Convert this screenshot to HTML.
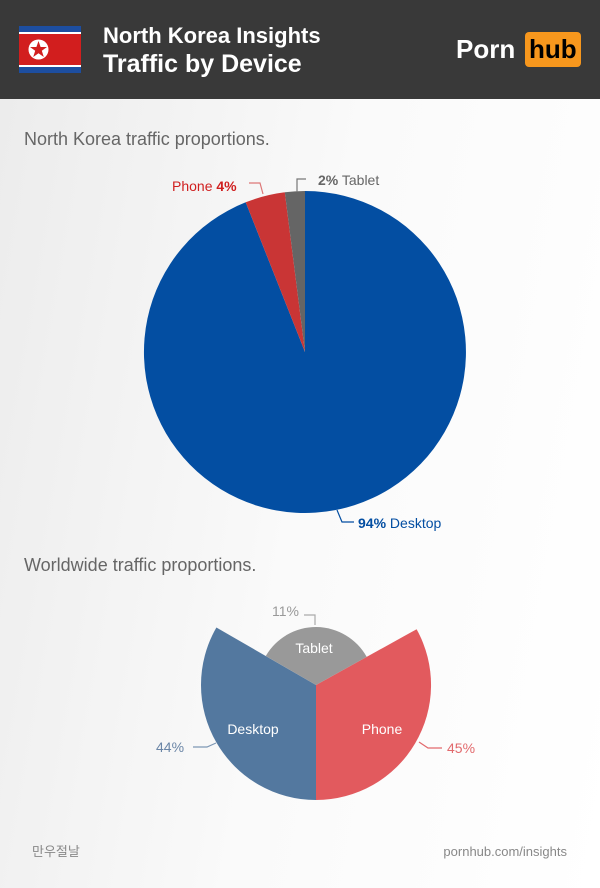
<!DOCTYPE html>
<html><head><meta charset="utf-8"><style>
body{margin:0;width:600px;height:888px;overflow:hidden;font-family:"Liberation Sans","Noto Sans CJK KR",sans-serif;}
.hdr{position:absolute;left:0;top:0;width:600px;height:99px;background:#393939;}
.main{position:absolute;left:0;top:99px;width:600px;height:789px;background:linear-gradient(100deg,#ececec 0%,#fafafa 50%,#ffffff 100%);}
</style></head><body>
<div class="hdr">
<svg width="600" height="99" style="position:absolute;left:0;top:0">
<rect x="19" y="26" width="62" height="47" fill="#1d4ea0"/>
<rect x="19" y="32" width="62" height="2" fill="#fff"/>
<rect x="19" y="34" width="62" height="31" fill="#d21e1e"/>
<rect x="19" y="65" width="62" height="2" fill="#fff"/>
<circle cx="38.5" cy="49.5" r="10" fill="#fff"/>
<polygon points="38.5,41 40.6,47 47,47 41.8,50.8 43.8,57 38.5,53.2 33.2,57 35.2,50.8 30,47 36.4,47" fill="#d21e1e"/>
<text x="103" y="43" font-size="22" font-weight="bold" fill="#fff">North Korea Insights</text>
<text x="103" y="72" font-size="25" font-weight="bold" fill="#fff">Traffic by Device</text>
<text x="456" y="58" font-size="26" font-weight="bold" fill="#fff">Porn</text>
<rect x="525" y="32" width="56" height="35" rx="4" fill="#f7971d"/>
<text x="529" y="58" font-size="26" font-weight="bold" fill="#000">hub</text>
</svg>
</div>
<div class="main"></div>
<svg width="600" height="888" style="position:absolute;left:0;top:0">
<text x="24" y="145" font-size="18" fill="#666">North Korea traffic proportions.</text>
<path d="M305,352 L305,191 A161,161 0 1 1 245.7,202.3 Z" fill="#034ea2"/>
<path d="M305,352 L245.7,202.3 A161,161 0 0 1 284.8,192.3 Z" fill="#c93535"/>
<path d="M305,352 L284.8,192.3 A161,161 0 0 1 305,191 Z" fill="#656565"/>
<polyline points="263,194 260,183 249,183" fill="none" stroke="#d77" stroke-width="1.2"/>
<polyline points="297,192 297,179 306,179" fill="none" stroke="#777" stroke-width="1.2"/>
<text x="172" y="191" font-size="14" fill="#d01f1f">Phone <tspan font-weight="bold">4%</tspan></text>
<text x="318" y="185" font-size="14" fill="#666"><tspan font-weight="bold">2%</tspan> Tablet</text>
<polyline points="337,510 342,522 354,522" fill="none" stroke="#034ea2" stroke-width="1.2"/>
<text x="358" y="528" font-size="14" fill="#034ea2"><tspan font-weight="bold">94%</tspan> Desktop</text>
<text x="24" y="571" font-size="18" fill="#666">Worldwide traffic proportions.</text>
<path d="M316,685 L416.6,629.2 A115,115 0 0 1 316,800 Z" fill="#e25a5e"/>
<path d="M316,685 L316,800 A115,115 0 0 1 216.4,627.5 Z" fill="#53789f"/>
<path d="M316,685 L265.8,656 A58,58 0 0 1 366.7,656.9 Z" fill="#999"/>
<text x="314" y="653" font-size="14" fill="#fff" text-anchor="middle">Tablet</text>
<text x="253" y="734" font-size="14" fill="#fff" text-anchor="middle">Desktop</text>
<text x="382" y="734" font-size="14" fill="#fff" text-anchor="middle">Phone</text>
<polyline points="304,615 315,615 315,625" fill="none" stroke="#aaa" stroke-width="1.2"/>
<text x="272" y="616" font-size="14" fill="#999">11%</text>
<polyline points="216,743 207,747 193,747" fill="none" stroke="#7d97b4" stroke-width="1.2"/>
<text x="156" y="752" font-size="14" fill="#6a85a6">44%</text>
<polyline points="419,742 428,748 442,748" fill="none" stroke="#e26a6d" stroke-width="1.2"/>
<text x="447" y="753" font-size="14" fill="#e26a6d">45%</text>
<text x="32" y="856" font-size="13" fill="#888">만우절날</text>
<text x="567" y="856" font-size="13" fill="#888" text-anchor="end">pornhub.com/insights</text>
</svg>
</body></html>
